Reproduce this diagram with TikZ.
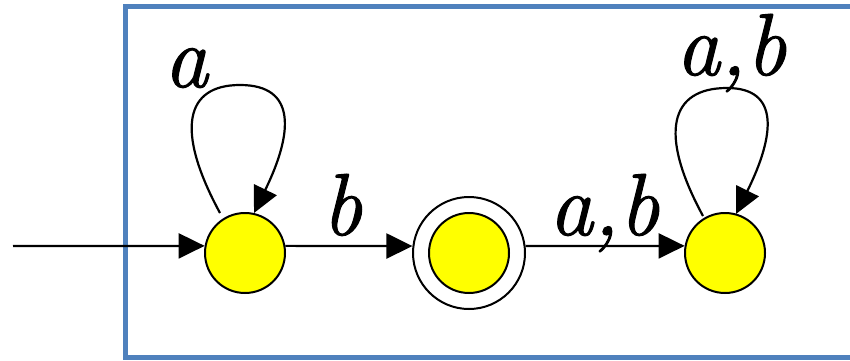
\documentclass[tikz,border=0pt]{standalone}
\usepackage{fontspec}
\newfontfamily\lblfont{Latin Modern Roman}[ItalicFeatures={FakeBold=1.2}]
\usetikzlibrary{arrows.meta,calc}
\definecolor{boxblue}{RGB}{79,129,189}
\definecolor{stateyellow}{RGB}{255,255,0}
\tikzset{
  state/.style={circle, draw=black, line width=1pt, fill=stateyellow, minimum size=40pt, inner sep=0pt},
  ring/.style={circle, draw=black, line width=1pt, fill=white, minimum size=56pt, inner sep=0pt},
  edge/.style={draw=black, line width=1.1pt, -{Triangle[length=13pt,width=12.5pt]}},
  lbl/.style={inner sep=0pt, anchor=base, font=\lblfont\fontsize{44}{50}\selectfont\itshape},
  frame/.style={draw=boxblue, line width=2.5pt}
}
\begin{document}
\begin{tikzpicture}[x=0.5pt,y=0.5pt]
\clip (0,0) rectangle (850,360);
\fill[white] (0,0) rectangle (850,360);
\draw[frame] (900,353.5) -- (125.5,353.5) -- (125.5,3) -- (900,3);
% states
\node[state] (s1) at (245,107) {};
\node[ring] (s2o) at (469,107) {};
\node[state] (s2) at (469,107) {};
\node[state] (s3) at (725,107) {};
\coordinate (start) at (13,114);
% edges
\draw[edge] (start) -- (s1.170);
\draw[edge] (s1.10) -- (s2o.173);
\draw[edge] (s2o.7) -- (s3.170);
% loops
\draw[edge] ($(s1)+(-25,40)$) .. controls ($(s1)+(-70,123)$) and ($(s1)+(-60,168)$) .. ($(s1)+(-5,168)$)
  .. controls ($(s1)+(52,168)$) and ($(s1)+(48,120)$) .. ($(s1)+(9,40)$);
\draw[edge] ($(s3)+(-22,37)$) .. controls ($(s3)+(-67,120)$) and ($(s3)+(-55,165)$) .. ($(s3)+(2,165)$)
  .. controls ($(s3)+(55,165)$) and ($(s3)+(50,118)$) .. ($(s3)+(11,39)$);
% labels
\node[lbl] (la) at (186,273) {a};
\node[lbl] (lb) at (342,125) {b};
\node[lbl] (lab) at (604,125) {a,b};
\node[lbl] (lab2) at (731,285) {a,b};
\end{tikzpicture}
\end{document}
